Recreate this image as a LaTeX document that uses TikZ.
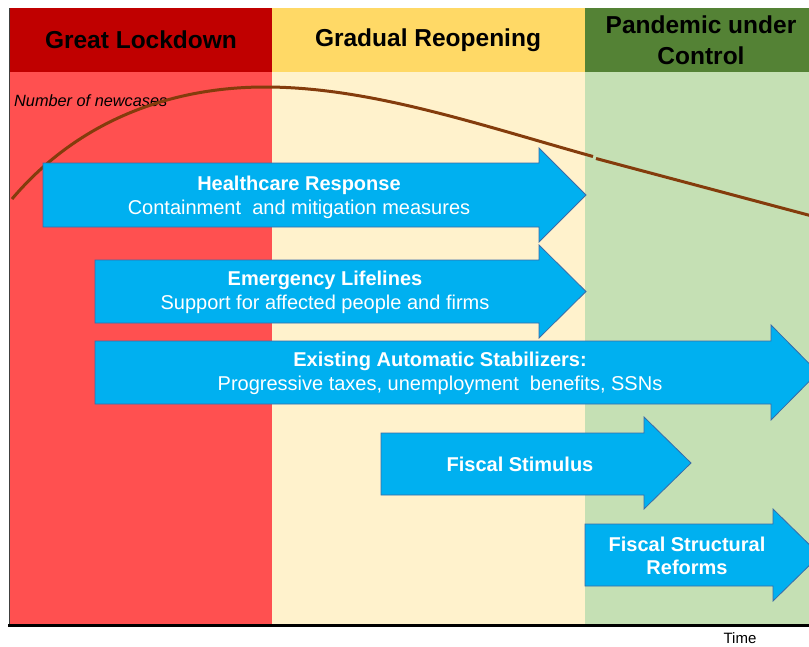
\documentclass[tikz,border=0pt]{standalone}
\usepackage{fontspec}
\setmainfont{Liberation Sans}
\definecolor{hdrred}{HTML}{C00000}
\definecolor{hdryellow}{HTML}{FFD966}
\definecolor{hdrgreen}{HTML}{548235}
\definecolor{bodyred}{HTML}{FF5050}
\definecolor{bodycream}{HTML}{FFF2CC}
\definecolor{bodygreen}{HTML}{C5E0B4}
\definecolor{arrowblue}{HTML}{00B0F0}
\definecolor{arrowedge}{HTML}{3A6BA8}
\definecolor{casecurve}{HTML}{843C0C}
\tikzset{
  hdrtext/.style={font=\fontsize{24.5}{31}\selectfont\bfseries, text=black, align=center, inner sep=0pt},
  fatarrow/.style={fill=arrowblue, draw=arrowedge, line width=0.8pt, line join=miter},
  arrowtext/.style={font=\fontsize{20}{24}\selectfont, text=white, align=center, inner sep=0pt},
  curvestyle/.style={draw=casecurve, line width=3pt},
}
\begin{document}
\begin{tikzpicture}[x=1pt,y=-1pt]
\useasboundingbox (0,0) rectangle (809,646);
\clip (0,0) rectangle (809,646);
\fill[white] (0,0) rectangle (809,646);

% phase columns
\fill[bodyred]   (9,72) rectangle (272,626);
\fill[bodycream] (272,72) rectangle (585,626);
\fill[bodygreen] (585,72) rectangle (809,626);
\fill[hdrred]    (9,8) rectangle (272,72);
\fill[hdryellow] (272,8) rectangle (585,72);
\fill[hdrgreen]  (585,8) rectangle (809,72);

\node[hdrtext] (h1) at (141,40) {Great Lockdown};
\node[hdrtext] (h2) at (428,40) {Gradual Reopening};
\node[hdrtext] (h3) at (701,40.5) {Pandemic under\\Control};

% axes
\draw[draw=black!75, line width=0.8pt] (9,8) -- (9,626);
\draw[black, line width=2.6pt] (8,625.5) -- (809,625.5);
\node[font=\fontsize{15}{18}\selectfont, inner sep=0pt] (tlabel) at (740,638.5) {Time};

% epidemic curve
\node[font=\fontsize{16.3}{19}\selectfont\itshape, anchor=west, inner sep=0pt] (clabel) at (14,101) {Number of newcases};
\draw[curvestyle] (12,199) .. controls (78,121) and (170,87) .. (265,87)
                  .. controls (370,87) and (480,125) .. (593,156.5);
\draw[curvestyle] (596,158.5) -- (812,216);

% policy arrows
\draw[fatarrow] (43,163) -- (539,163) -- (539,148) -- (586,195) -- (539,242) -- (539,227) -- (43,227) -- cycle;
\draw[fatarrow] (95,260) -- (539,260) -- (539,245) -- (586,291.5) -- (539,338) -- (539,323) -- (95,323) -- cycle;
\draw[fatarrow] (95,341) -- (771,341) -- (771,325) -- (818,372.5) -- (771,420) -- (771,404) -- (95,404) -- cycle;
\draw[fatarrow] (381,433) -- (644,433) -- (644,417) -- (691,463) -- (644,509) -- (644,495) -- (381,495) -- cycle;
\draw[fatarrow] (585,524) -- (773,524) -- (773,509) -- (820,555) -- (773,601) -- (773,586) -- (585,586) -- cycle;

\node[arrowtext] (a1) at (299,197) {\textbf{Healthcare Response}\\Containment\ \ and mitigation measures};
\node[arrowtext] (a2) at (325,292) {\textbf{Emergency Lifelines}\\Support for affected people and firms};
\node[arrowtext] (a3) at (440,373) {\textbf{Existing Automatic Stabilizers:}\\Progressive taxes, unemployment\ \ benefits, SSNs};
\node[arrowtext, font=\fontsize{20}{24}\selectfont\bfseries] (a4) at (520,464) {Fiscal Stimulus};
\node[arrowtext, font=\fontsize{20}{23}\selectfont\bfseries] (a5) at (687,556) {Fiscal Structural\\Reforms};
\end{tikzpicture}
\end{document}
